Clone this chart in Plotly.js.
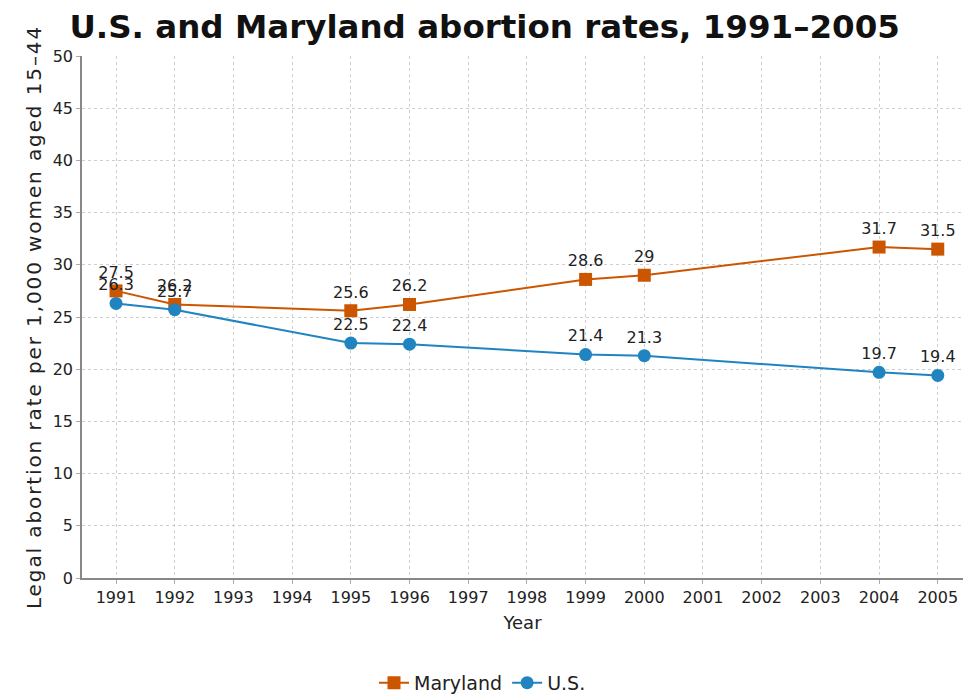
<!DOCTYPE html>
<html><head><meta charset="utf-8">
<script src="https://cdn.plot.ly/plotly-3.0.1.min.js"></script>
<style>html,body{margin:0;padding:0;background:#fff}
.ytitle{letter-spacing:1.9px}</style>
</head><body><div id="chart" style="width:965px;height:696px"></div>
<script>
const years = [1991, 1992, 1995, 1996, 1999, 2000, 2004, 2005];
const maryland = [27.5, 26.2, 25.6, 26.2, 28.6, 29, 31.7, 31.5];
const us = [26.3, 25.7, 22.5, 22.4, 21.4, 21.3, 19.7, 19.4];
const xTicks = [1991,1992,1993,1994,1995,1996,1997,1998,1999,2000,2001,2002,2003,2004,2005];
const yTicks = [0,5,10,15,20,25,30,35,40,45,50];

const font = "DejaVu Sans, sans-serif";
const traces = [
  {x: years, y: maryland, name: 'Maryland', type: 'scatter', mode: 'lines+markers+text',
   text: maryland.map(String), textposition: 'top center',
   textfont: {family: font, size: 16, color: '#222'},
   line: {color: '#cc5500', width: 2},
   marker: {symbol: 'square', size: 13, color: '#cc5500'}, cliponaxis: false},
  {x: years, y: us, name: 'U.S.', type: 'scatter', mode: 'lines+markers+text',
   text: us.map(String), textposition: 'top center',
   textfont: {family: font, size: 16, color: '#222'},
   line: {color: '#1f84c0', width: 2},
   marker: {symbol: 'circle', size: 13, color: '#1f84c0'}, cliponaxis: false}
];
const layout = {
  width: 965, height: 696,
  margin: {l: 82, r: 2, t: 56, b: 118},
  paper_bgcolor: '#fff', plot_bgcolor: '#fff',
  font: {family: font, color: '#222'},
  title: {text: '<b>U.S. and Maryland abortion rates, 1991–2005</b>',
          font: {family: font, size: 32.5, color: '#111'},
          x: 0.072, xanchor: 'left', y: 0.962, yanchor: 'middle'},
  xaxis: {range: [1990.42, 2005.43], tickvals: xTicks, ticktext: xTicks.map(String),
          showgrid: true, gridcolor: '#cfcfcf', griddash: 'dot', gridwidth: 1.2,
          showline: true, linecolor: '#888', linewidth: 1.5,
          ticks: 'outside', ticklen: 4, tickcolor: '#aaa',
          tickfont: {family: font, size: 16, color: '#222'}, zeroline: false,
          title: {text: 'Year', font: {family: font, size: 18, color: '#222'}, standoff: 10}},
  yaxis: {range: [0, 50], tickvals: yTicks, ticktext: yTicks.map(String),
          showgrid: true, gridcolor: '#cfcfcf', griddash: 'dot', gridwidth: 1.2,
          showline: true, linecolor: '#888', linewidth: 1.5,
          ticks: 'outside', ticklen: 4, tickcolor: '#aaa',
          tickfont: {family: font, size: 16, color: '#222'}, zeroline: false,
          title: {text: 'Legal abortion rate per 1,000 women aged 15–44', font: {family: font, size: 20, color: '#222'}, standoff: 6}},
  showlegend: true,
  legend: {orientation: 'h', x: 0.5, xref: 'container', xanchor: 'center', y: 0.019, yref: 'container', yanchor: 'middle',
           font: {family: font, size: 19, color: '#222'}, itemwidth: 30}
};
Plotly.newPlot('chart', traces, layout, {displayModeBar: false});
</script></body></html>
